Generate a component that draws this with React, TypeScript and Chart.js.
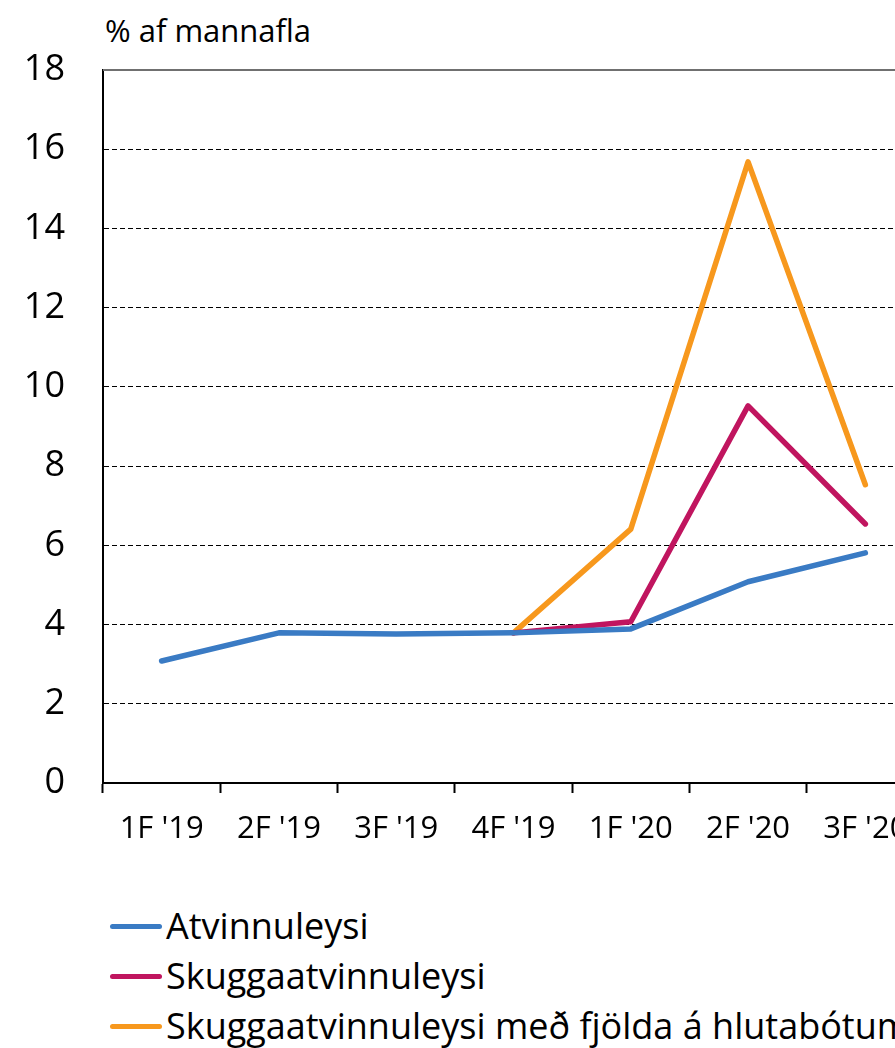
import React, { useEffect, useRef } from "react";
import { Chart, registerables } from "chart.js";

Chart.register(...registerables);

const categories = ["1F '19", "2F '19", "3F '19", "4F '19", "1F '20", "2F '20", "3F '20"];
const atvinnuleysi = [3.08, 3.79, 3.76, 3.79, 3.89, 5.08, 5.81];
const skugga = [null, null, null, 3.79, 4.07, 9.52, 6.54];
const skuggaHluta = [null, null, null, 3.79, 6.41, 15.68, 7.53];
const seriesNames = ["Atvinnuleysi", "Skuggaatvinnuleysi", "Skuggaatvinnuleysi með fjölda á hlutabótum"];
const seriesColors = ["#3A7BC4", "#C0155F", "#F7981D"];
const yTitle = "% af mannafla";
const FONT = "'Open Sans', sans-serif";

const topBorder = {
  id: "topBorder",
  afterDraw(chart: any) {
    const { ctx, chartArea } = chart;
    ctx.save();
    ctx.strokeStyle = "#707070";
    ctx.lineWidth = 2;
    ctx.beginPath();
    ctx.moveTo(chartArea.left, chartArea.top);
    ctx.lineTo(chartArea.right, chartArea.top);
    ctx.stroke();
    ctx.restore();
  },
};

export default function App() {
  const ref = useRef<HTMLCanvasElement>(null);
  useEffect(() => {
    if (!ref.current) return;
    const data = [atvinnuleysi, skugga, skuggaHluta];
    const chart = new Chart(ref.current, {
      type: "line",
      data: {
        labels: categories,
        datasets: data.map((d, i) => ({
          label: seriesNames[i],
          data: d,
          borderColor: seriesColors[i],
          backgroundColor: seriesColors[i],
          borderWidth: 5.5,
          pointRadius: 0,
          tension: 0,
          borderCapStyle: "round",
          borderJoinStyle: "round",
          spanGaps: false,
        })),
      },
      options: {
        responsive: false,
        animation: false,
        devicePixelRatio: 1,
        layout: { padding: { top: 70, right: 16, left: 0, bottom: 0 } },
        plugins: { legend: { display: false }, tooltip: { enabled: false } },
        scales: {
          x: {
            offset: true,
            grid: {
              offset: true,
              drawOnChartArea: false,
              drawTicks: true,
              tickLength: 10,
              tickColor: "#000",
              tickWidth: 2,
            },
            border: { display: true, color: "#000", width: 2 },
            ticks: { color: "#000", padding: 18, font: { family: FONT, size: 31 }, maxRotation: 0, autoSkip: false },
            afterFit: (s: any) => { s.height = 77; },
          },
          y: {
            min: 0,
            max: 18,
            ticks: { stepSize: 2, color: "#000", padding: 38, font: { family: FONT, size: 36 } },
            grid: {
              drawTicks: false,
              color: (c: any) => (c.tick && (c.tick.value === 0 || c.tick.value === 18) ? "rgba(0,0,0,0)" : "#000"),
              lineWidth: 1,
            },
            border: { display: true, color: "#000", width: 2, dash: [5, 3] },
            afterFit: (s: any) => { s.width = 103; },
          },
        },
      },
      plugins: [topBorder],
    } as any);
    return () => chart.destroy();
  }, []);

  return (
    <div style={{ position: "fixed", left: 0, top: 0, width: 895, height: 1048, overflow: "hidden", background: "#fff", fontFamily: FONT }}>
      <div style={{ position: "absolute", left: 105, top: 11, fontSize: 31, lineHeight: "38px", color: "#000", whiteSpace: "nowrap" }}>{yTitle}</div>
      <canvas ref={ref} width={940} height={860} style={{ position: "absolute", left: 0, top: 0, width: 940, height: 860 }} />
      {seriesNames.map((n, i) => (
        <div key={n} style={{ position: "absolute", left: 110, top: 904 + i * 50, height: 44, display: "flex", alignItems: "center", whiteSpace: "nowrap" }}>
          <div style={{ width: 52, height: 5, borderRadius: 3, background: seriesColors[i], marginRight: 4 }} />
          <span style={{ fontSize: 36, lineHeight: "44px", color: "#000" }}>{n}</span>
        </div>
      ))}
    </div>
  );
}
